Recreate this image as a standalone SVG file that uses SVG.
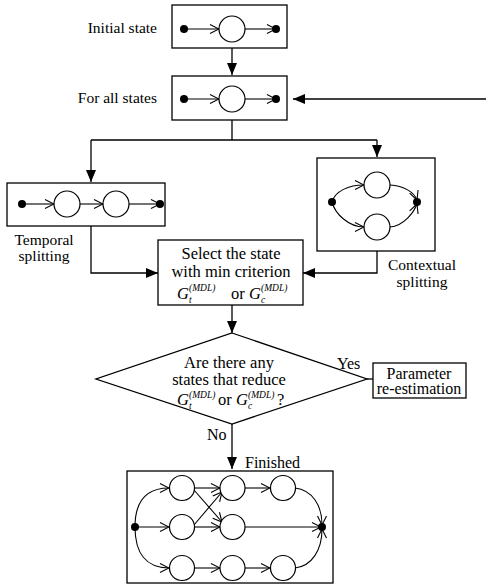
<svg xmlns="http://www.w3.org/2000/svg" width="486" height="586" viewBox="0 0 486 586">
<style>
.box{fill:#fff;stroke:#000;stroke-width:1.3}
.ln{fill:none;stroke:#000;stroke-width:1.3}
.sl{fill:none;stroke:#000;stroke-width:1.1}
.st{fill:#fff;stroke:#000;stroke-width:1.2}
.dot{fill:#000}
text{font-family:"Liberation Serif","Times New Roman",serif;font-size:16px;fill:#000}
.lb{font-size:15.5px}
.nt{font-size:16.5px}
.it{font-style:italic}
.sup{font-size:9.5px;font-style:italic}
</style>
<defs>
<marker id="tri" markerUnits="userSpaceOnUse" markerWidth="12" markerHeight="10" refX="12" refY="5" orient="auto">
<path d="M0,0 L12,5 L0,10 Z" fill="#000"/>
</marker>
<marker id="chev" markerUnits="userSpaceOnUse" markerWidth="11" markerHeight="11" refX="10" refY="5.5" orient="auto">
<path d="M1,1 L10,5.5 L1,10" fill="none" stroke="#000" stroke-width="1.1"/>
</marker>
</defs>

<g id="connectors">
<path class="ln" d="M232,48 V75" marker-end="url(#tri)"/>
<path class="ln" d="M486,99 H293" marker-end="url(#tri)"/>
<path class="ln" d="M232,120 V140 M91,140 H377"/>
<path class="ln" d="M91,140 V182" marker-end="url(#tri)"/>
<path class="ln" d="M377,140 V157" marker-end="url(#tri)"/>
<path class="ln" d="M91,226 V273 H158" marker-end="url(#tri)"/>
<path class="ln" d="M377,251 V273 H303" marker-end="url(#tri)"/>
<path class="ln" d="M232,305 V333" marker-end="url(#tri)"/>
<path class="ln" d="M367,379 H373"/>
<path class="ln" d="M232,424 V469" marker-end="url(#tri)"/>
</g>

<g id="initial-state">
<text class="lb" x="157" y="33" text-anchor="end">Initial state</text>
<rect class="box" x="172" y="5" width="115" height="43"/>
<circle class="dot" cx="184" cy="29" r="4"/>
<path class="sl" d="M184,29 H219" marker-end="url(#chev)"/>
<circle class="st" cx="232" cy="29" r="13"/>
<path class="sl" d="M245,29 H276" marker-end="url(#chev)"/>
<circle class="dot" cx="276" cy="29" r="4"/>
</g>

<g id="for-all-states">
<text class="lb" x="157" y="103" text-anchor="end">For all states</text>
<rect class="box" x="172" y="76" width="115" height="44"/>
<circle class="dot" cx="184" cy="99" r="4"/>
<path class="sl" d="M184,99 H219" marker-end="url(#chev)"/>
<circle class="st" cx="232" cy="99" r="13"/>
<path class="sl" d="M245,99 H276" marker-end="url(#chev)"/>
<circle class="dot" cx="276" cy="99" r="4"/>
</g>

<g id="temporal-splitting">
<rect class="box" x="7" y="183" width="158" height="43"/>
<circle class="dot" cx="22" cy="204" r="4"/>
<path class="sl" d="M22,204 H54" marker-end="url(#chev)"/>
<circle class="st" cx="67" cy="204" r="13"/>
<path class="sl" d="M80,204 H103" marker-end="url(#chev)"/>
<circle class="st" cx="116" cy="204" r="13"/>
<path class="sl" d="M129,204 H160" marker-end="url(#chev)"/>
<circle class="dot" cx="160" cy="204" r="4"/>
<text class="lb" x="44" y="245" text-anchor="middle">Temporal</text>
<text class="lb" x="44" y="261" text-anchor="middle">splitting</text>
</g>

<g id="contextual-splitting">
<rect class="box" x="317" y="158" width="118" height="93"/>
<circle class="dot" cx="332" cy="202" r="4"/>
<path class="sl" d="M332,202 C335,191 349,185 364,185" marker-end="url(#chev)"/>
<path class="sl" d="M332,202 C335,214 349,227 364,227" marker-end="url(#chev)"/>
<circle class="st" cx="377" cy="185" r="13"/>
<circle class="st" cx="377" cy="227" r="13"/>
<path class="sl" d="M390,185 C404,186 414,192 417,200" marker-end="url(#chev)"/>
<path class="sl" d="M390,227 C404,226 414,212 417,204" marker-end="url(#chev)"/>
<circle class="dot" cx="417" cy="202" r="4"/>
<text class="lb" x="422" y="270" text-anchor="middle">Contextual</text>
<text class="lb" x="422" y="287" text-anchor="middle">splitting</text>
</g>

<g id="select-state">
<rect class="box" x="158" y="240" width="145" height="65"/>
<text class="nt" x="231" y="259" text-anchor="middle">Select the state</text>
<text class="nt" x="231" y="277" text-anchor="middle">with min criterion</text>
<text class="nt"><tspan class="it" x="177" y="299">G</tspan><tspan class="sup" x="189" y="291">(MDL)</tspan><tspan class="sup" x="189" y="303">t</tspan><tspan x="231" y="299">or</tspan><tspan class="it" x="249" y="299">G</tspan><tspan class="sup" x="261" y="291">(MDL)</tspan><tspan class="sup" x="261" y="303">c</tspan></text>
</g>

<g id="decision">
<polygon class="box" points="232,333 367,379 232,424 96,379"/>
<text class="nt" x="229" y="368" text-anchor="middle">Are there any</text>
<text class="nt" x="229" y="385" text-anchor="middle">states that reduce</text>
<text class="nt"><tspan class="it" x="177" y="405">G</tspan><tspan class="sup" x="189" y="398">(MDL)</tspan><tspan class="sup" x="189" y="409">t</tspan><tspan x="218" y="405">or</tspan><tspan class="it" x="236" y="405">G</tspan><tspan class="sup" x="248" y="398">(MDL)</tspan><tspan class="sup" x="248" y="409">c</tspan><tspan x="277" y="405">?</tspan></text>
<text x="337" y="369">Yes</text>
<text x="207" y="440">No</text>
</g>

<g id="parameter-reestimation">
<rect class="box" x="373" y="363" width="93" height="35"/>
<text x="419" y="379" text-anchor="middle">Parameter</text>
<text x="419" y="394" text-anchor="middle">re-estimation</text>
</g>

<g id="finished">
<text x="245" y="468">Finished</text>
<rect class="box" x="127" y="471" width="206" height="112"/>
<circle class="dot" cx="135" cy="527" r="4"/>
<circle class="dot" cx="322" cy="527" r="4"/>
<path class="sl" d="M135,527 C135,502 146,488 169,488" marker-end="url(#chev)"/>
<path class="sl" d="M135,527 H169" marker-end="url(#chev)"/>
<path class="sl" d="M135,527 C135,553 146,568 169,568" marker-end="url(#chev)"/>
<path class="sl" d="M194,488 H220" marker-end="url(#chev)"/>
<path class="sl" d="M194,490 L222,522" marker-end="url(#chev)"/>
<path class="sl" d="M194,525 L222,492" marker-end="url(#chev)"/>
<path class="sl" d="M194,527 H220" marker-end="url(#chev)"/>
<path class="sl" d="M245,488 H270" marker-end="url(#chev)"/>
<path class="sl" d="M245,527 H321" marker-end="url(#chev)"/>
<path class="sl" d="M194,568 H220" marker-end="url(#chev)"/>
<path class="sl" d="M245,568 H270" marker-end="url(#chev)"/>
<path class="sl" d="M295,488 C312,490 322,505 322,525" marker-end="url(#chev)"/>
<path class="sl" d="M295,568 C312,566 322,550 322,529" marker-end="url(#chev)"/>
<circle class="st" cx="182" cy="488" r="12.5"/>
<circle class="st" cx="232.5" cy="488" r="12.5"/>
<circle class="st" cx="283" cy="488" r="12.5"/>
<circle class="st" cx="182" cy="527" r="12.5"/>
<circle class="st" cx="232.5" cy="527" r="12.5"/>
<circle class="st" cx="182" cy="568" r="12.5"/>
<circle class="st" cx="232.5" cy="568" r="12.5"/>
<circle class="st" cx="283" cy="568" r="12.5"/>
</g>
</svg>
